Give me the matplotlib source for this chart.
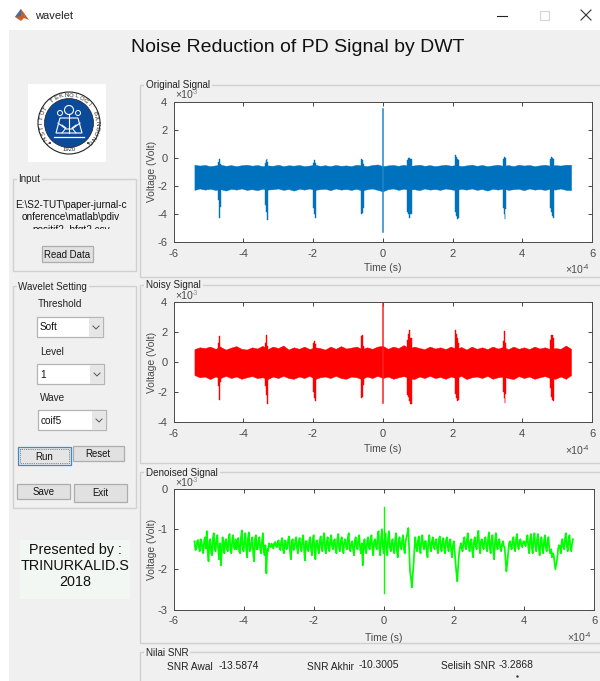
import numpy as np
import matplotlib
matplotlib.use("Agg")
import matplotlib.pyplot as plt
from matplotlib.patches import Rectangle, Circle, Polygon

plt.rcParams['font.family'] = ['Liberation Sans', 'DejaVu Sans']
plt.rcParams['axes.unicode_minus'] = False

# ---- data (time in 1e-4 s, voltage in scaled volts)
x_ticks = [-6, -4, -2, 0, 2, 4, 6]
orig_yticks = [-6, -4, -2, 0, 2, 4]
noisy_yticks = [-4, -2, 0, 2, 4]
den_yticks = [-3, -2, -1, 0]

# edges of the steady noise band, one value every 0.15 from -5.4 to 5.4
orig_band_top = [-0.5, -0.56, -0.52, -0.6, -0.55, -0.5, -0.58, -0.53, -0.6, -0.54, -0.5, -0.57,
                 -0.52, -0.6, -0.55, -0.58, -0.5, -0.6, -0.54, -0.57, -0.52, -0.6, -0.56, -0.5,
                 -0.58, -0.54, -0.6, -0.52, -0.58, -0.55, -0.6, -0.5, -0.56, -0.6, -0.52, -0.48,
                 -0.6, -0.55, -0.52, -0.58, -0.5, -0.6, -0.55, -0.5, -0.58, -0.53, -0.6, -0.55,
                 -0.5, -0.57, -0.53, -0.6, -0.55, -0.5, -0.58, -0.52, -0.6, -0.55, -0.5, -0.58,
                 -0.53, -0.6, -0.5, -0.56, -0.52, -0.6, -0.55, -0.5, -0.58, -0.53, -0.56, -0.5, -0.5]
orig_band_low = [-2.3, -2.2, -2.28, -2.22, -2.3, -2.25, -2.35, -2.22, -2.28, -2.2, -2.3, -2.25,
                 -2.32, -2.22, -2.28, -2.25, -2.2, -2.3, -2.24, -2.35, -2.22, -2.28, -2.2, -2.3,
                 -2.25, -2.22, -2.32, -2.2, -2.28, -2.24, -2.3, -2.22, -2.35, -2.25, -2.2, -2.3,
                 -2.4, -2.25, -2.2, -2.3, -2.22, -2.28, -2.25, -2.32, -2.2, -2.28, -2.24, -2.3,
                 -2.2, -2.26, -2.32, -2.22, -2.28, -2.2, -2.3, -2.24, -2.35, -2.22, -2.28, -2.2,
                 -2.3, -2.25, -2.22, -2.32, -2.2, -2.28, -2.24, -2.3, -2.22, -2.28, -2.2, -2.3, -2.32]
noisy_band_top = [0.88, 1.0, 0.95, 1.05, 0.9, 1.02, 0.85, 0.98, 1.08, 0.9, 0.85, 1.0,
                  0.92, 1.1, 0.88, 1.05, 0.95, 1.12, 0.85, 1.0, 0.9, 1.05, 0.88, 1.0,
                  0.95, 0.85, 1.05, 0.9, 1.08, 0.92, 0.98, 1.05, 0.88, 1.0, 0.9, 1.05,
                  1.1, 0.9, 1.05, 0.95, 1.15, 0.92, 1.05, 0.95, 0.88, 1.05, 0.92, 1.0,
                  0.88, 1.05, 0.9, 1.02, 0.85, 1.05, 0.9, 1.0, 0.88, 1.05, 0.92, 1.02,
                  0.88, 1.05, 0.9, 1.0, 0.88, 1.05, 0.92, 1.0, 0.88, 0.95, 0.9, 1.12, 0.9]
noisy_band_low = [-0.85, -1.0, -0.95, -1.12, -0.95, -1.05, -0.9, -1.05, -0.95, -1.1, -1.0, -0.92,
                  -1.05, -1.0, -1.12, -0.95, -1.05, -0.9, -1.05, -1.1, -0.95, -1.05, -0.9, -1.12,
                  -1.0, -0.95, -1.05, -0.9, -1.05, -1.1, -0.95, -1.0, -1.12, -0.95, -1.05, -0.9,
                  -1.05, -0.95, -1.1, -1.0, -0.92, -1.05, -1.12, -0.95, -1.05, -0.9, -1.05, -0.98,
                  -1.1, -0.95, -1.05, -0.9, -1.12, -1.0, -0.95, -1.05, -0.9, -1.1, -1.0, -0.95,
                  -1.05, -1.12, -0.92, -1.05, -0.95, -1.1, -1.0, -0.92, -1.05, -1.1, -0.95, -1.1, -0.85]

# the eight partial discharge bursts
burst_t = [-4.73, -4.71, -4.69, -4.67, -4.65, -4.63,
           -3.38, -3.36, -3.34, -3.32, -3.30, -3.28,
           -2.02, -1.995, -1.97, -1.945, -1.92, -1.895,
           -0.64, -0.62, -0.60, -0.58, -0.56, -0.54,
           0.69, 0.72, 0.75, 0.78, 0.81, 0.84,
           2.05, 2.08, 2.11, 2.14, 2.17, 2.20,
           3.43, 3.455, 3.48, 3.505, 3.53, 3.555,
           4.77, 4.80, 4.83, 4.86, 4.89, 4.92]
orig_burst_top = [-0.8, -0.3, -0.08, -0.25, -0.42, -0.8,
                  -0.8, -0.35, -0.15, -0.1, -0.3, -0.8,
                  -0.8, -0.4, -0.3, -0.2, -0.35, -0.8,
                  -0.8, -0.15, -0.12, -0.2, -0.45, -0.8,
                  -0.8, -0.2, -0.05, -0.02, -0.1, -0.8,
                  -0.8, 0.2, 0.05, -0.1, -0.2, -0.8,
                  -0.8, -0.1, 0.05, 0.0, -0.05, -0.8,
                  -0.8, -0.1, 0.05, 0.0, -0.1, -0.8]
orig_burst_low = [-2.0, -3.0, -4.3, -3.55, -3.55, -2.0,
                  -2.0, -3.4, -3.9, -4.25, -4.45, -2.0,
                  -2.0, -3.6, -3.75, -4.05, -4.3, -2.0,
                  -2.0, -3.9, -4.05, -3.95, -3.6, -2.0,
                  -2.0, -3.9, -4.05, -4.3, -4.0, -2.0,
                  -2.0, -3.9, -4.2, -4.4, -4.3, -2.0,
                  -2.0, -3.6, -4.0, -4.35, -3.7, -2.0,
                  -2.0, -3.6, -3.9, -4.2, -4.3, -2.0]
noisy_burst_top = [0.7, 1.3, 1.75, 1.5, 1.0, 0.7,
                   0.7, 1.3, 1.85, 1.6, 1.1, 0.7,
                   0.7, 1.3, 1.4, 1.4, 1.2, 0.7,
                   0.7, 1.5, 1.75, 1.8, 1.1, 0.7,
                   0.7, 1.5, 1.9, 2.15, 1.6, 0.7,
                   0.7, 2.15, 1.9, 1.6, 1.3, 0.7,
                   0.7, 1.4, 2.1, 1.7, 1.3, 0.7,
                   0.7, 1.5, 1.8, 1.85, 1.6, 0.7]
noisy_burst_low = [-0.7, -1.6, -2.5, -1.7, -1.3, -0.7,
                   -0.7, -1.6, -2.2, -2.5, -2.75, -0.7,
                   -0.7, -2.0, -2.2, -2.4, -2.55, -0.7,
                   -0.7, -2.3, -2.4, -2.3, -1.5, -0.7,
                   -0.7, -2.2, -2.3, -2.55, -2.75, -0.7,
                   -0.7, -2.1, -2.4, -2.6, -2.5, -0.7,
                   -0.7, -2.0, -2.35, -2.7, -2.1, -0.7,
                   -0.7, -1.7, -2.3, -2.5, -2.6, -0.7]

orig_spike_t = [0.0, 0.0]
orig_spike_v = [-5.3, 3.5]
noisy_spike_t = [0.0, 0.0]
noisy_spike_v = [-2.7, 4.0]
den_spike_t = [0.0, 0.0]
den_spike_v = [-2.6, -0.45]

# denoised trace, read every 0.05 from -5.4 to 5.4
den_values = [
    -1.3, -1.5, -1.27, -1.55, -1.32, -1.6, -1.2, -1.05, -1.8, -1.25, -1.65, -1.1,
    -1.55, -1.15, -1.75, -1.9, -1.2, -1.6, -1.25, -1.55, -1.12, -1.6, -1.15, -1.5,
    -1.5, -1.22, -1.6, -1.03, -1.55, -1.1, -1.7, -1.08, -1.5, -1.2, -1.8, -1.15,
    -1.5, -1.2, -1.6, -1.1, -1.65, -2.1, -1.55, -1.42, -1.36, -1.48, -1.32, -1.45,
    -1.28, -1.52, -1.22, -1.6, -1.3, -1.45, -1.18, -1.75, -1.25, -1.5, -1.2, -1.6,
    -1.22, -1.55, -1.15, -1.78, -1.3, -1.55, -1.2, -1.65, -1.15, -1.75, -1.28, -1.6,
    -1.18, -1.55, -1.1, -1.6, -1.2, -1.55, -1.15, -1.5, -1.25, -1.6, -1.12, -1.55,
    -1.2, -1.6, -1.25, -1.5, -1.1, -1.55, -1.3, -1.65, -1.2, -1.5, -1.15, -1.6,
    -1.9, -1.25, -1.6, -1.2, -1.5, -1.15, -1.65, -1.25, -1.5, -1.05, -1.65, -1.0,
    -1.6, -1.1, -1.65, -1.05, -1.55, -1.25, -1.6, -1.1, -1.7, -1.2, -1.5, -1.15,
    -1.6, -1.2, -0.97, -2.05, -2.45, -1.9, -1.2, -1.55, -1.18, -1.6, -1.15, -1.5,
    -1.3, -1.7, -1.15, -1.55, -1.2, -1.5, -1.25, -1.6, -1.18, -1.55, -1.22, -1.6,
    -1.2, -1.55, -1.25, -1.7, -1.3, -1.85, -2.3, -1.6, -1.35, -1.55, -1.2, -1.5,
    -1.1, -1.55, -1.25, -1.7, -1.2, -1.5, -1.04, -1.6, -1.25, -1.5, -1.2, -1.55,
    -1.08, -1.6, -1.15, -1.75, -1.1, -1.5, -1.25, -1.55, -1.3, -1.45, -2.05, -1.6,
    -1.3, -1.5, -1.2, -1.55, -1.12, -1.5, -1.25, -1.45, -1.3, -1.42, -1.15, -1.6,
    -1.12, -1.6, -1.1, -1.55, -1.12, -1.65, -1.2, -1.6, -1.15, -1.55, -1.2, -1.6,
    -1.7, -1.65, -2.0, -1.75, -1.4, -1.6, -1.25, -1.5, -1.1, -1.55, -1.15, -1.55, -1.25]
# same trace read between those points, from -5.375 to 5.375
den_between = [
    -1.52, -1.3, -1.45, -1.25, -1.5, -1.28, -1.48, -1.55, -1.3, -1.6, -1.22, -1.5,
    -1.25, -1.5, -1.35, -1.6, -1.38, -1.3, -1.5, -1.2, -1.52, -1.28, -1.45, -1.25,
    -1.3, -1.55, -1.2, -1.48, -1.28, -1.5, -1.22, -1.55, -1.3, -1.62, -1.25, -1.5,
    -1.28, -1.5, -1.3, -1.55, -1.4, -1.5, -1.35, -1.45, -1.4, -1.35, -1.42, -1.3,
    -1.48, -1.3, -1.5, -1.28, -1.5, -1.25, -1.55, -1.3, -1.52, -1.28, -1.48, -1.3,
    -1.45, -1.25, -1.5, -1.3, -1.52, -1.28, -1.5, -1.25, -1.55, -1.3, -1.5, -1.28,
    -1.45, -1.22, -1.5, -1.3, -1.48, -1.25, -1.42, -1.3, -1.52, -1.25, -1.48, -1.28,
    -1.45, -1.3, -1.42, -1.22, -1.5, -1.35, -1.5, -1.28, -1.42, -1.25, -1.5, -1.35,
    -1.4, -1.5, -1.3, -1.45, -1.25, -1.5, -1.3, -1.42, -1.2, -1.5, -1.2, -1.45,
    -1.25, -1.52, -1.2, -1.45, -1.35, -1.5, -1.25, -1.55, -1.3, -1.42, -1.28, -1.5,
    -1.3, -1.1, -1.5, -2.2, -2.15, -1.5, -1.45, -1.3, -1.5, -1.25, -1.42, -1.3,
    -1.55, -1.28, -1.45, -1.3, -1.42, -1.3, -1.5, -1.25, -1.45, -1.3, -1.5, -1.28,
    -1.42, -1.3, -1.55, -1.4, -1.55, -2.1, -1.9, -1.45, -1.48, -1.3, -1.42, -1.25,
    -1.42, -1.3, -1.55, -1.3, -1.42, -1.2, -1.4, -1.3, -1.42, -1.28, -1.45, -1.25,
    -1.45, -1.25, -1.52, -1.3, -1.42, -1.3, -1.48, -1.38, -1.42, -1.75, -1.85, -1.35,
    -1.42, -1.28, -1.45, -1.25, -1.42, -1.3, -1.4, -1.32, -1.38, -1.25, -1.45, -1.25,
    -1.45, -1.22, -1.42, -1.25, -1.5, -1.3, -1.48, -1.28, -1.45, -1.3, -1.48, -1.5,
    -1.6, -1.85, -1.85, -1.5, -1.42, -1.32, -1.45, -1.22, -1.42, -1.25, -1.45, -1.35]

snr_labels = ["SNR Awal", "SNR Akhir", "Selisih SNR"]
snr_values = ["-13.5874", "-10.3005", "-3.2868"]
logo_name = "INSTITUT TEKNOLOGI BANDUNG"

BG = '#f0f0f0'
EDGE = '#d0d0d0'
TXT = '#262626'
AXC = '#4a4a4a'

fig = plt.figure(figsize=(6, 6.81), dpi=100, facecolor='white')

# overlay in pixel coords for the gui around the plots
ui = fig.add_axes([0, 0, 1, 1])
ui.set_xlim(0, 600)
ui.set_ylim(681, 0)
ui.axis('off')


def panel(x0, y0, x1, y1, title):
    ui.add_patch(Rectangle((x0, y0), x1 - x0, y1 - y0, fc='none', ec=EDGE, lw=1))
    ui.text(x0 + 6, y0 + 0.5, title, fontsize=7.1, color='#222222', va='center', ha='left',
            bbox=dict(fc=BG, ec='none', pad=1.2))


def button(x0, y0, x1, y1, label, ec='#adadad', fc='#e1e1e1'):
    ui.add_patch(Rectangle((x0, y0), x1 - x0, y1 - y0, fc=fc, ec=ec, lw=0.9))
    ui.text((x0 + x1) / 2, (y0 + y1) / 2 + 0.5, label, fontsize=6.9, color='#111111',
            ha='center', va='center')


def combo(x0, y0, x1, y1, label):
    ui.add_patch(Rectangle((x0, y0), x1 - x0, y1 - y0, fc='white', ec='#b4b4b4', lw=0.9))
    ui.add_patch(Rectangle((x1 - 14, y0 + 0.5), 13.5, y1 - y0 - 1, fc='#e6e6e6', ec='none'))
    ui.plot([x1 - 10, x1 - 7, x1 - 4], [y0 + 9, y0 + 12, y0 + 9], color='#555555', lw=0.7)
    ui.text(x0 + 3, (y0 + y1) / 2 + 0.5, label, fontsize=7.2, color='#111111', va='center')


# window frame
ui.add_patch(Rectangle((9, 30), 591, 651, fc=BG, ec='none'))
ui.text(35, 16, "wavelet", fontsize=8, color='#222222', va='center')
ui.add_patch(Polygon([[15, 17], [21, 9], [24, 13], [29, 20], [24, 18], [21, 21]], fc='#c8602a', ec='none'))
ui.add_patch(Polygon([[15, 17], [21, 9], [21, 16]], fc='#3a6fb0', ec='none'))
ui.plot([497, 507], [15.5, 15.5], color='#222222', lw=0.8)
ui.add_patch(Rectangle((540, 11), 9, 9, fc='none', ec='#d8d8d8', lw=0.9))
ui.plot([581, 591], [10, 20], color='#333333', lw=0.8)
ui.plot([581, 591], [20, 10], color='#333333', lw=0.8)
ui.text(297.5, 47, "Noise Reduction of PD Signal by DWT", fontsize=14, color='#111111',
        ha='center', va='center')

# logo
ui.add_patch(Rectangle((28, 84), 78, 78, fc='white', ec='none'))
ui.add_patch(Circle((69, 123), 31, fc='white', ec='#222222', lw=0.8))
ui.add_patch(Circle((69, 123), 24.5, fc='#0b4a9b', ec='#222222', lw=0.5))
for i, ch in enumerate(logo_name):
    ang = np.deg2rad(222 - i * 264 / (len(logo_name) - 1))
    ui.text(69 + 27.7 * np.cos(ang), 123 - 27.7 * np.sin(ang), ch, fontsize=4.3, color='#222222',
            ha='center', va='center', rotation=np.rad2deg(ang) - 90)
ui.text(69, 149.8, "1920", fontsize=4.2, color='#222222', ha='center', va='center')
ui.add_patch(Circle((50, 143), 1, fc='#222222', ec='none'))
ui.add_patch(Circle((88, 143), 1, fc='#222222', ec='none'))
# ganesha figure, just a rough white sketch
ui.add_patch(Circle((69, 110), 4.5, fc='none', ec='white', lw=0.8))
ui.add_patch(Circle((60, 113), 2.5, fc='none', ec='white', lw=0.7))
ui.add_patch(Circle((78, 113), 2.5, fc='none', ec='white', lw=0.7))
ui.add_patch(Polygon([[60, 118], [78, 118], [82, 133], [56, 133]], fc='none', ec='white', lw=0.8))
ui.plot([54, 84], [136.5, 136.5], color='white', lw=0.9)
ui.plot([58, 66, 72, 80], [123, 129, 129, 123], color='white', lw=0.8)
ui.plot([69, 69], [114, 133], color='white', lw=0.8)
ui.plot([62, 66, 62], [133, 128, 125], color='white', lw=0.7)
ui.plot([76, 72, 76], [133, 128, 125], color='white', lw=0.7)

# input box
panel(12.5, 179, 136, 271, "Input")
ui.text(71, 205, "E:\\S2-TUT\\paper-jurnal-c", fontsize=7.2, color='#111111', ha='center', va='center')
ui.text(71, 217.5, "onference\\matlab\\pdiv", fontsize=7.2, color='#111111', ha='center', va='center')
cut = ui.text(71, 230, "positif2_bfqt2.csv", fontsize=7.2, color='#111111', ha='center', va='center')
cut.set_clip_path(Rectangle((14, 222), 120, 7, transform=ui.transData))
cut.set_clip_on(True)
button(42, 246, 93, 262, "Read Data")

# wavelet settings
panel(12.5, 286, 136, 508, "Wavelet Setting")
ui.text(38, 304, "Threshold", fontsize=7.2, color='#222222', va='center')
combo(37, 317, 103, 337, "Soft")
ui.text(40, 352, "Level", fontsize=7.2, color='#222222', va='center')
combo(37, 364, 104, 384, "1")
ui.text(40, 398, "Wave", fontsize=7.2, color='#222222', va='center')
combo(38, 410, 106, 430, "coif5")
button(17.5, 447, 71, 465, "Run", ec='#3c8ad0', fc='#e5e5e5')
ui.add_patch(Rectangle((20, 449), 48.5, 13.5, fc='none', ec='#333333', lw=0.5, ls=':'))
button(72.5, 446, 124, 461, "Reset")
button(16.5, 484, 70, 499, "Save")
button(74, 484, 127, 502, "Exit")

# presented by
ui.add_patch(Rectangle((20, 540), 110, 59, fc='#f2f7f4', ec='none'))
for y, line in zip([550, 566, 582], ["Presented by :", "TRINURKALID.S", "2018"]):
    ui.text(75, y, line, fontsize=10.4, color='#111111', ha='center', va='center')

# plot panels
panel(140, 84.5, 601, 277, "Original Signal")
panel(140, 285, 601, 463, "Noisy Signal")
panel(140, 472, 601, 643, "Denoised Signal")
panel(140, 652, 601, 690, "Nilai SNR")

ui.text(167, 667, snr_labels[0], fontsize=7.3, color='#222222', va='center')
ui.text(219, 666, snr_values[0], fontsize=7.4, color='#222222', va='center')
ui.text(307, 667, snr_labels[1], fontsize=7.3, color='#222222', va='center')
ui.text(359, 665, snr_values[1], fontsize=7.4, color='#222222', va='center')
ui.text(441, 666, snr_labels[2], fontsize=7.3, color='#222222', va='center')
ui.text(499, 665, snr_values[2], fontsize=7.4, color='#222222', va='center')
ui.plot([517], [676], marker='.', ms=1.5, color='#333333')


def make_axes(x0, y0, x1, y1, ylim, yticks, labelpad):
    ax = fig.add_axes([x0 / 600, 1 - y1 / 681, (x1 - x0) / 600, (y1 - y0) / 681])
    ax.set_xlim(-6, 6)
    ax.set_ylim(*ylim)
    ax.set_xticks(x_ticks)
    ax.set_yticks(yticks)
    ax.tick_params(direction='in', top=True, right=True, length=3.2, width=0.6, color=TXT,
                   labelsize=8, labelcolor=AXC)
    ax.tick_params(axis='x', pad=5)
    ax.tick_params(axis='y', pad=4.5)
    for s in ax.spines.values():
        s.set_linewidth(0.7)
        s.set_color(AXC)
    ax.set_xlabel("Time (s)", fontsize=7.4, color=AXC, labelpad=labelpad)
    ax.set_ylabel("Voltage (Volt)", fontsize=7.4, color=AXC, labelpad=0.5)
    # matlab style exponents
    ui.text(x1 - 27, y1 + 28.5, "\u00d710", fontsize=7.6, color=AXC, va='center')
    ui.text(x1 - 9.5, y1 + 26, "-4", fontsize=5, color=AXC, va='center')
    ui.text(x0 + 1.5, y0 - 6.5, "\u00d710", fontsize=7.6, color=AXC, va='center')
    ui.text(x0 + 18.5, y0 - 9, "-3", fontsize=5, color='#909090', va='center')
    return ax


ax1 = make_axes(173.5, 101.7, 592, 241.7, (-6, 4), orig_yticks, 3)
orig_band_t = np.linspace(-5.4, 5.4, len(orig_band_top))
ax1.fill_between(orig_band_t, orig_band_low, orig_band_top, color='#0072BD', lw=0.3)
ax1.fill_between(burst_t, orig_burst_low, orig_burst_top, step='mid', color='#0072BD', lw=0.3)
ax1.plot(orig_spike_t, orig_spike_v, color='#1f86cc', lw=1.1)

ax2 = make_axes(173.5, 302.3, 592, 422.3, (-4, 4), noisy_yticks, 3.5)
noisy_band_t = np.linspace(-5.4, 5.4, len(noisy_band_top))
ax2.fill_between(noisy_band_t, noisy_band_low, noisy_band_top, color='#FF0000', lw=0.3)
ax2.fill_between(burst_t, noisy_burst_low, noisy_burst_top, step='mid', color='#FF0000', lw=0.3)
ax2.plot(noisy_spike_t, noisy_spike_v, color='#FF2020', lw=1.1)

ax3 = make_axes(173.5, 489, 594, 609.5, (-3, 0), den_yticks, 4.5)
den_t = np.linspace(-5.4, 5.4, len(den_values))
den_mid_t = np.linspace(-5.375, 5.375, len(den_between))
all_t = np.concatenate([den_t, den_mid_t])
all_v = np.concatenate([den_values, den_between])
order = np.argsort(all_t)
ax3.plot(all_t[order], all_v[order], color='#00FF00', lw=1.25)
ax3.plot(den_spike_t, den_spike_v, color='#00FF00', lw=1.0)

fig.savefig("out.png", dpi=100, facecolor='white')
